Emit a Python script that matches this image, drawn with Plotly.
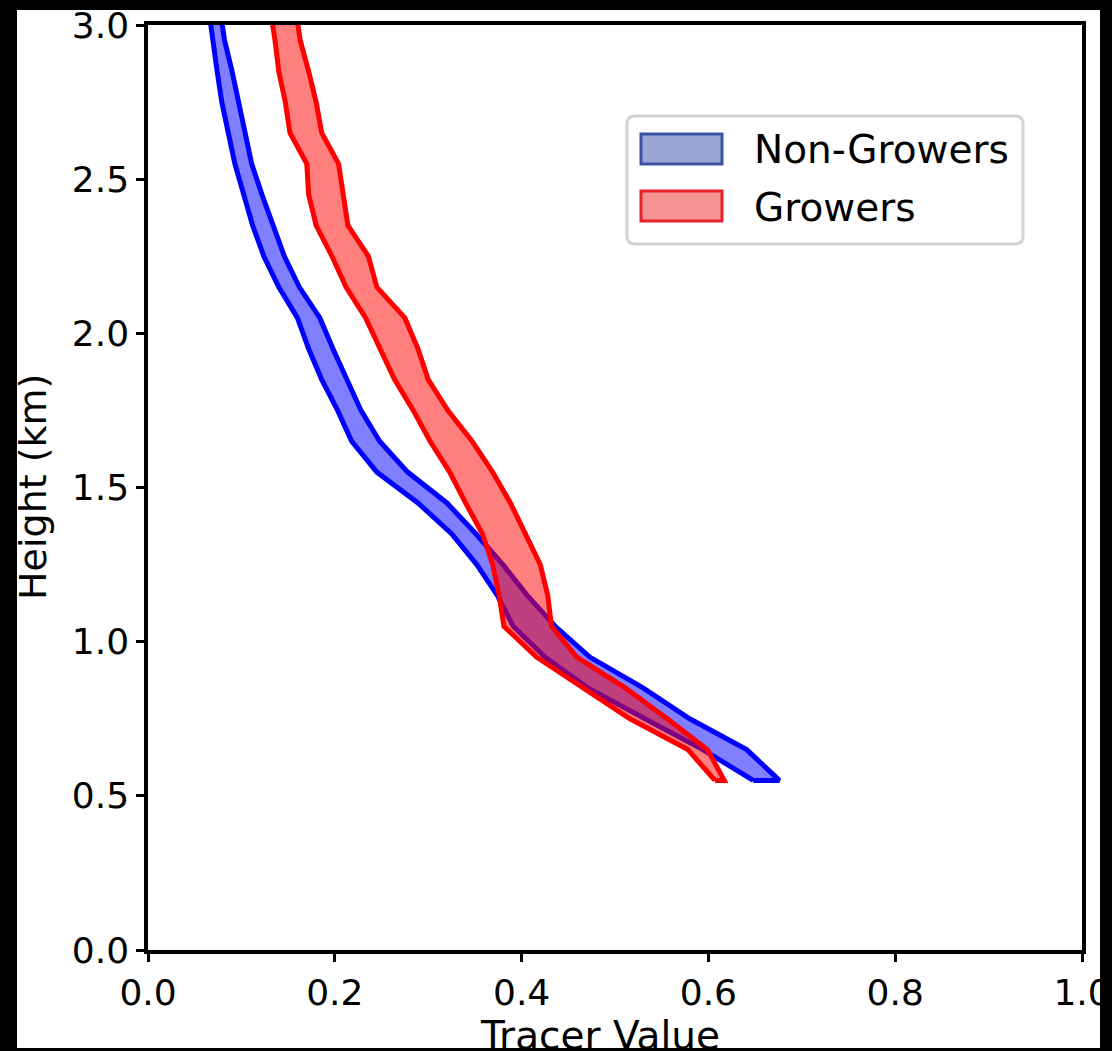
import plotly.graph_objects as go

# ---- data (heights in km, tracer value bounds) ----
heights = [0.55, 0.65, 0.75, 0.85, 0.95, 1.05, 1.15, 1.25, 1.35, 1.45, 1.55, 1.65, 1.75,
           1.85, 1.95, 2.05, 2.15, 2.25, 2.35, 2.45, 2.55, 2.65, 2.75, 2.85, 2.95, 3.05]

nongrow_low = [0.648, 0.594, 0.532, 0.471, 0.425, 0.391, 0.374, 0.352, 0.325, 0.289, 0.245, 0.218, 0.203,
               0.186, 0.172, 0.160, 0.140, 0.124, 0.112, 0.102, 0.093, 0.086, 0.079, 0.074, 0.070, 0.065]
nongrow_high = [0.676, 0.641, 0.580, 0.530, 0.473, 0.436, 0.406, 0.380, 0.351, 0.320, 0.278, 0.248, 0.228,
                0.213, 0.198, 0.184, 0.162, 0.146, 0.134, 0.122, 0.111, 0.104, 0.097, 0.090, 0.082, 0.077]

grow_low = [0.607, 0.578, 0.516, 0.466, 0.416, 0.381, 0.376, 0.369, 0.358, 0.340, 0.323, 0.302, 0.284,
            0.264, 0.248, 0.233, 0.212, 0.197, 0.180, 0.172, 0.170, 0.152, 0.147, 0.140, 0.136, 0.131]
grow_high = [0.617, 0.599, 0.556, 0.511, 0.459, 0.432, 0.428, 0.420, 0.404, 0.388, 0.369, 0.347, 0.321,
             0.300, 0.289, 0.275, 0.245, 0.236, 0.214, 0.209, 0.204, 0.186, 0.180, 0.172, 0.163, 0.158]

series_names = ["Non-Growers", "Growers"]
x_ticks = [0.0, 0.2, 0.4, 0.6, 0.8, 1.0]
y_ticks = [0.0, 0.5, 1.0, 1.5, 2.0, 2.5, 3.0]

# ---- figure geometry (pixels) ----
W, H = 1112, 1051
L, R, T, B = 148, 1082, 25, 950
FONT = "DejaVu Sans"


def px(x):
    return (x - L) / (R - L)


def py(y):
    return (B - y) / (B - T)


fig = go.Figure()

styles = [
    dict(line="#0000ff", fill="rgba(0,0,255,0.5)"),
    dict(line="#ff0000", fill="rgba(255,0,0,0.5)"),
]
bounds = [(nongrow_low, nongrow_high), (grow_low, grow_high)]

for name, (lo, hi), st in zip(series_names, bounds, styles):
    xs = list(lo) + list(hi)[::-1] + [lo[0]]
    ys = list(heights) + list(heights)[::-1] + [heights[0]]
    fig.add_trace(go.Scatter(
        x=xs, y=ys, mode="lines", fill="toself", fillcolor=st["fill"],
        line=dict(color=st["line"], width=5), name=name, showlegend=False,
        hoverinfo="skip"))

axis_common = dict(
    showline=True, linecolor="black", linewidth=3.5, mirror=True,
    ticks="outside", ticklen=8, tickwidth=2.5, tickcolor="black",
    showgrid=False, zeroline=False, automargin=False,
    tickfont=dict(family=FONT, size=36, color="black"),
)

fig.update_xaxes(range=[0, 1], tickvals=x_ticks, tickformat=".1f", **axis_common)
fig.update_yaxes(range=[0, 3], tickvals=y_ticks, tickformat=".1f", **axis_common)

shapes = []
# white canvas inside black frame
shapes.append(dict(type="rect", xref="paper", yref="paper", layer="below",
                   x0=px(17), x1=px(1100), y0=py(1048), y1=py(10),
                   fillcolor="white", line=dict(width=0)))

# legend box (rounded)
bx0, bx1, by0, by1 = 627, 1023, 116, 244
r = 8


def rounded_path(x0, x1, y0, y1, r):
    pts = (f"M {px(x0 + r)} {py(y0)} L {px(x1 - r)} {py(y0)} "
           f"Q {px(x1)} {py(y0)} {px(x1)} {py(y0 + r)} "
           f"L {px(x1)} {py(y1 - r)} Q {px(x1)} {py(y1)} {px(x1 - r)} {py(y1)} "
           f"L {px(x0 + r)} {py(y1)} Q {px(x0)} {py(y1)} {px(x0)} {py(y1 - r)} "
           f"L {px(x0)} {py(y0 + r)} Q {px(x0)} {py(y0)} {px(x0 + r)} {py(y0)} Z")
    return pts


shapes.append(dict(type="path", xref="paper", yref="paper", layer="above",
                   path=rounded_path(bx0, bx1, by0, by1, r),
                   fillcolor="rgba(255,255,255,0.8)", line=dict(color="#d4d4d4", width=3)))

legend_patch = [
    dict(y0=134, y1=164, fill="#9aa7d6", edge="#3a52a2"),
    dict(y0=191, y1=221, fill="#f59393", edge="#e8212b"),
]
for lp in legend_patch:
    shapes.append(dict(type="rect", xref="paper", yref="paper", layer="above",
                       x0=px(641), x1=px(722), y0=py(lp["y1"]), y1=py(lp["y0"]),
                       fillcolor=lp["fill"], line=dict(color=lp["edge"], width=3)))

annotations = []
for name, yc in zip(series_names, [150, 207]):
    annotations.append(dict(xref="paper", yref="paper", x=px(752), y=py(yc),
                            xanchor="left", yanchor="middle", showarrow=False,
                            text=name, font=dict(family=FONT, size=39, color="black")))

annotations.append(dict(xref="paper", yref="paper", x=px(600), y=py(1011),
                        xanchor="center", yanchor="top", showarrow=False,
                        text="Tracer Value", font=dict(family=FONT, size=39, color="black")))
annotations.append(dict(xref="paper", yref="paper", x=px(33), y=py(487),
                        xanchor="center", yanchor="middle", showarrow=False, textangle=-90,
                        text="Height (km)", font=dict(family=FONT, size=38, color="black")))

fig.update_layout(
    width=W, height=H,
    margin=dict(l=L, r=W - R, t=T, b=H - B, pad=0, autoexpand=False),
    paper_bgcolor="black", plot_bgcolor="white",
    showlegend=False,
    shapes=shapes, annotations=annotations,
    font=dict(family=FONT, color="black"),
)

fig.write_html("out.html")
